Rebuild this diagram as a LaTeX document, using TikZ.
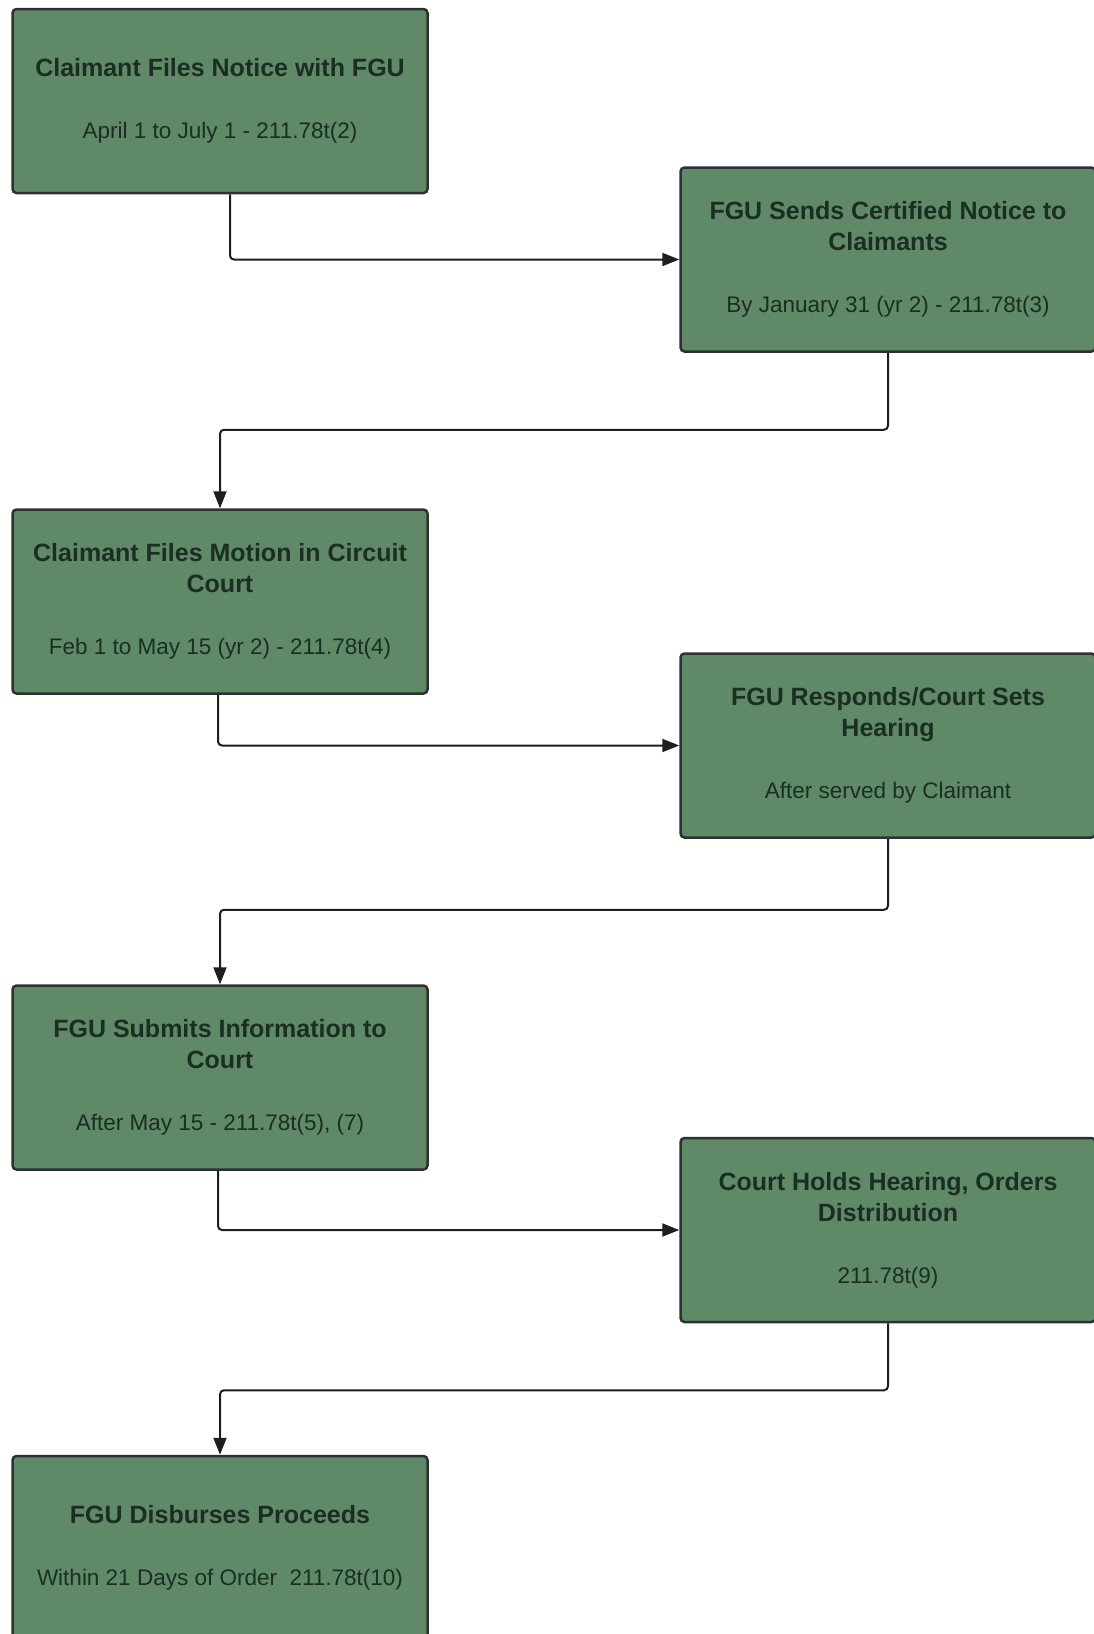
\documentclass[tikz,border=0pt]{standalone}
\usepackage{fontspec}
\setmainfont{Liberation Sans}
\usetikzlibrary{arrows.meta}
\definecolor{boxgreen}{RGB}{95,137,103}
\definecolor{boxline}{RGB}{45,50,48}
\definecolor{boxtext}{RGB}{26,46,33}
\definecolor{flowline}{RGB}{30,30,30}
\newcommand{\stepname}[1]{{\fontsize{25}{31}\selectfont\bfseries #1}}
\newcommand{\steprule}[1]{{\fontsize{22.5}{31}\selectfont #1}}

\begin{document}
\begin{tikzpicture}[x=1pt,y=-1pt,
        stepbox/.style={draw=boxline, line width=2.5pt, fill=boxgreen, rounded corners=4pt,
            minimum width=415pt, minimum height=184pt, align=center, text=boxtext,
            font=\fontsize{25}{31}\selectfont},
        flow/.style={draw=flowline, line width=2pt, rounded corners=4pt,
            -{Triangle[length=17pt,width=13pt]}}]
        \useasboundingbox (0,0) rectangle (1093,1634);

        \node[stepbox] (filenotice) at (220,101) {\stepname{Claimant Files Notice with FGU}\\[31pt]\steprule{April 1 to July 1 - 211.78t(2)}};
        \node[stepbox] (certnotice) at (888,259.5) {\stepname{FGU Sends Certified Notice to}\\\stepname{Claimants}\\[31pt]\steprule{By January 31 (yr 2) - 211.78t(3)}};
        \node[stepbox] (motion) at (220,601.5) {\stepname{Claimant Files Motion in Circuit}\\\stepname{Court}\\[31pt]\steprule{Feb 1 to May 15 (yr 2) - 211.78t(4)}};
        \node[stepbox] (hearing) at (888,745.5) {\stepname{FGU Responds/Court Sets}\\\stepname{Hearing}\\[31pt]\steprule{After served by Claimant}};
        \node[stepbox] (submits) at (220,1077.5) {\stepname{FGU Submits Information to}\\\stepname{Court}\\[31pt]\steprule{After May 15 - 211.78t(5), (7)}};
        \node[stepbox] (orders) at (888,1230) {\stepname{Court Holds Hearing, Orders}\\\stepname{Distribution}\\[31pt]\steprule{211.78t(9)}};
        \node[stepbox] (disburse) at (220,1548) {\stepname{FGU Disburses Proceeds}\\[31pt]\steprule{Within 21 Days of Order\ \ 211.78t(10)}};

        \draw[flow] ([xshift=10pt]filenotice.south) |- (certnotice.west);
        \draw[flow] (certnotice.south) -- ++(0,77) -| (motion.north);
        \draw[flow] ([xshift=-2pt]motion.south) |- (hearing.west);
        \draw[flow] (hearing.south) -- ++(0,71) -| (submits.north);
        \draw[flow] ([xshift=-2pt]submits.south) |- (orders.west);
        \draw[flow] (orders.south) -- ++(0,67) -| (disburse.north);
    \end{tikzpicture}
\end{document}
